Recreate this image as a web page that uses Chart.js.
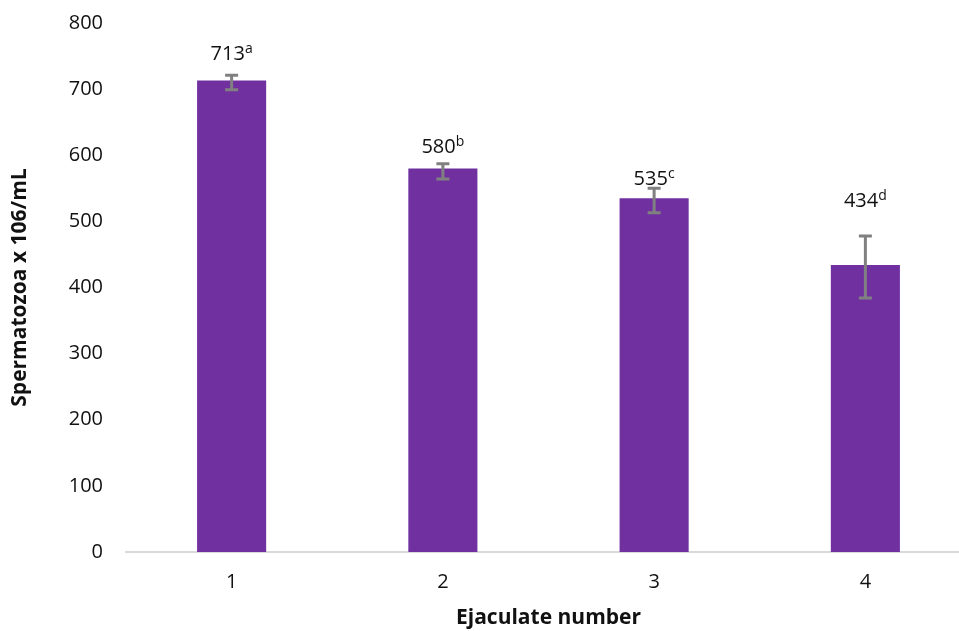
<!DOCTYPE html>
<html>
<head>
<meta charset="utf-8">
<script src="https://cdn.jsdelivr.net/npm/chart.js@4.4.1/dist/chart.umd.min.js"></script>
<style>
  html, body { margin: 0; padding: 0; background: #fff; overflow: hidden; }
  #wrap { width: 971px; height: 631px; }
</style>
</head>
<body>
<div id="wrap"><canvas id="chart" width="971" height="631"></canvas></div>
<script>
// data
const categories = ['1', '2', '3', '4'];
const counts = [713, 580, 535, 434];
const errUp = [8, 7, 15, 44];
const errDown = [14, 16, 22, 50];
const letters = ['a', 'b', 'c', 'd'];
const yMin = 0;
const yMax = 800;
const yStep = 100;

// px between the top of each error bar and its label baseline
const labelGap = [15, 11, 3, 29];

const FONT = '"Open Sans", "Noto Sans", sans-serif';

const errorBars = {
  id: 'errorBars',
  afterDatasetsDraw(chart) {
    const ctx = chart.ctx;
    const y = chart.scales.y;
    const meta = chart.getDatasetMeta(0);
    ctx.save();
    meta.data.forEach((bar, i) => {
      const x = bar.x;
      const top = y.getPixelForValue(counts[i] + errUp[i]);
      const bot = y.getPixelForValue(counts[i] - errDown[i]);
      ctx.strokeStyle = '#808080';
      ctx.lineWidth = 3;
      ctx.beginPath();
      ctx.moveTo(x, top); ctx.lineTo(x, bot);
      ctx.moveTo(x - 6.5, top); ctx.lineTo(x + 6.5, top);
      ctx.moveTo(x - 6.5, bot); ctx.lineTo(x + 6.5, bot);
      ctx.stroke();

      // value label with superscript letter
      const main = String(counts[i]);
      const sup = letters[i];
      ctx.font = '20px ' + FONT;
      const wMain = ctx.measureText(main).width;
      ctx.font = '14px ' + FONT;
      const wSup = ctx.measureText(sup).width;
      const start = x - (wMain + wSup) / 2;
      const base = top - labelGap[i];
      ctx.fillStyle = '#111';
      ctx.textBaseline = 'alphabetic';
      ctx.textAlign = 'left';
      ctx.font = '20px ' + FONT;
      ctx.fillText(main, start, base);
      ctx.font = '14px ' + FONT;
      ctx.fillText(sup, start + wMain, base - 7);
    });
    ctx.restore();
  }
};

new Chart(document.getElementById('chart').getContext('2d'), {
  type: 'bar',
  data: {
    labels: categories,
    datasets: [{
      data: counts,
      backgroundColor: '#7030A0',
      borderWidth: 0,
      categoryPercentage: 1,
      barPercentage: 0.327
    }]
  },
  options: {
    responsive: false,
    animation: false,
    devicePixelRatio: 1,
    layout: { padding: { top: 23, left: 0, right: 0, bottom: 0 } },
    plugins: { legend: { display: false }, tooltip: { enabled: false } },
    scales: {
      x: {
        grid: { display: false, drawTicks: false },
        border: { display: true, color: '#d9d9d9', width: 2 },
        ticks: { color: '#111', font: { family: FONT, size: 20 }, padding: 18 },
        title: {
          display: true, text: 'Ejaculate number', color: '#111',
          font: { family: FONT, size: 21, weight: 'bold' }, padding: { top: 1, bottom: 0 }
        },
        afterFit(scale) { scale.height = 79; }
      },
      y: {
        min: yMin, max: yMax,
        grid: { display: false, drawTicks: false },
        border: { display: false },
        ticks: { stepSize: yStep, color: '#111', font: { family: FONT, size: 20 }, padding: 23 },
        title: {
          display: true, text: 'Spermatozoa x 106/mL', color: '#111',
          font: { family: FONT, size: 21, weight: 'bold' }, padding: { top: 7, bottom: 0 }
        },
        afterFit(scale) {
          scale.width = 126;
          scale.paddingTop = 0;
          scale.paddingBottom = 0;
        }
      }
    }
  },
  plugins: [errorBars]
});
</script>
</body>
</html>
